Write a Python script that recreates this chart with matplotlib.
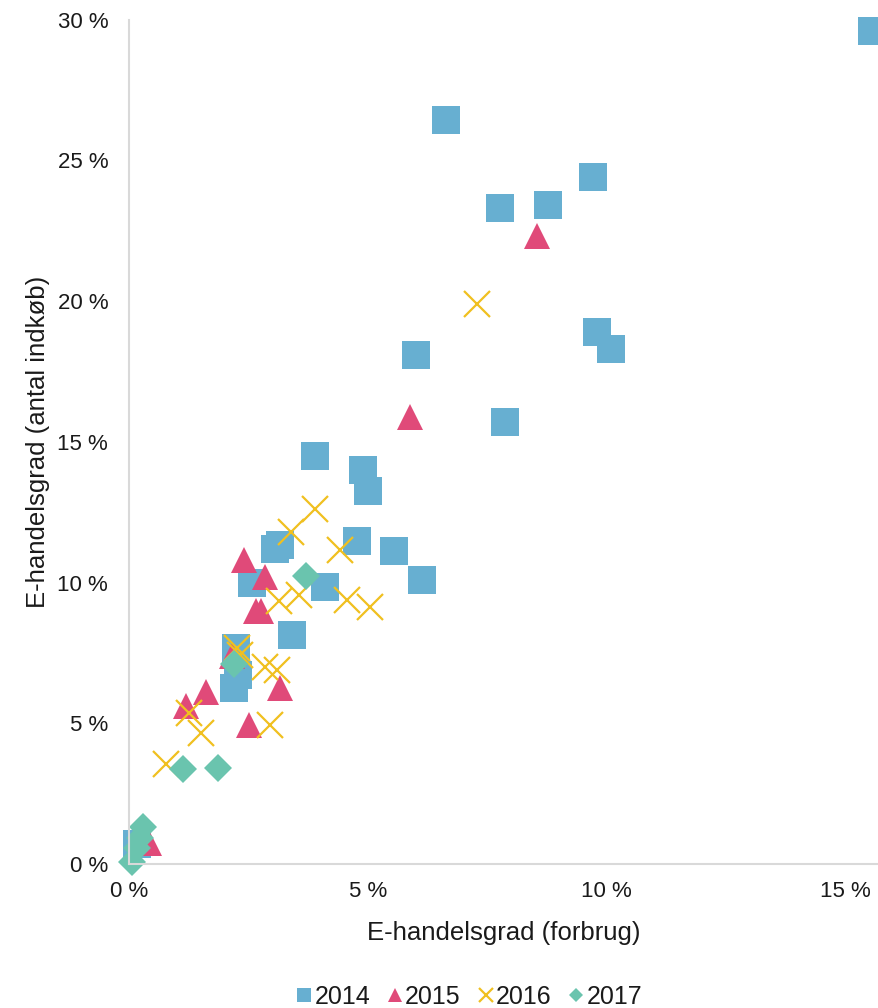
import matplotlib.pyplot as plt
from matplotlib.ticker import FuncFormatter

plt.rcParams['font.family'] = ['Liberation Sans', 'DejaVu Sans']

# 2014 (blue squares)
x2014 = [15.56, 6.63, 9.71, 7.76, 8.77, 9.79, 10.1, 6.0, 7.87, 3.89, 4.9, 5.0,
         4.77, 5.54, 3.05, 3.16, 6.13, 4.1, 2.57, 3.41, 2.24, 2.28, 2.2, 0.17]
y2014 = [29.6, 26.45, 24.4, 23.3, 23.4, 18.9, 18.3, 18.1, 15.7, 14.5, 14.0, 13.26,
         11.48, 11.13, 11.2, 11.35, 10.1, 9.85, 10.0, 8.14, 7.68, 6.72, 6.26, 0.7]

# 2015 (pink triangles)
x2015 = [8.54, 5.88, 2.4, 2.85, 2.66, 2.76, 2.15, 1.61, 1.19, 3.16, 2.51, 0.42]
y2015 = [22.3, 15.9, 10.8, 10.2, 9.0, 9.0, 7.4, 6.1, 5.6, 6.25, 4.94, 0.75]

# 2016 (yellow crosses)
x2016 = [7.28, 3.89, 3.39, 4.41, 3.14, 3.56, 4.56, 5.04, 2.26, 2.32, 2.85, 3.1,
         2.95, 1.26, 1.51, 0.77]
y2016 = [19.9, 12.6, 11.8, 11.16, 9.35, 9.56, 9.38, 9.14, 7.68, 7.43, 7.0, 6.9,
         4.94, 5.37, 4.66, 3.55]

# 2017 (green diamonds)
x2017 = [3.7, 2.2, 1.13, 1.86, 0.29, 0.23, 0.17, 0.06]
y2017 = [10.24, 7.1, 3.38, 3.41, 1.3, 0.92, 0.57, 0.07]

xticks = [0, 5, 10, 15]
yticks = [0, 5, 10, 15, 20, 25, 30]

BLUE = '#67AFD1'
PINK = '#E04A79'
YELLOW = '#F0C020'
GREEN = '#6AC4AE'
TEXT = '#1a1a1a'

fig = plt.figure(figsize=(8.79, 10.08), dpi=100)
ax = fig.add_axes([0.1468, 0.1429, 0.8532, 0.8375])

ax.plot(x2014, y2014, 's', ms=19.5, color=BLUE, mew=0, label='2014', clip_on=False)
ax.plot(x2015, y2015, '^', ms=19, color=PINK, mew=0, label='2015', clip_on=False)
ax.plot(x2016, y2016, 'x', ms=19, color=YELLOW, mew=1.6, label='2016', clip_on=False)
ax.plot(x2017, y2017, 'D', ms=14, color=GREEN, mew=0, label='2017', clip_on=False)

ax.set_xlim(0, 15.7)
ax.set_ylim(0, 30)
ax.set_xticks(xticks)
ax.set_yticks(yticks)
fmt = FuncFormatter(lambda v, p: f'{v:.0f} %')
ax.xaxis.set_major_formatter(fmt)
ax.yaxis.set_major_formatter(fmt)
ax.tick_params(length=0, labelsize=16, colors=TEXT)
ax.tick_params(axis='y', pad=15)
ax.tick_params(axis='x', pad=12)

for side in ['top', 'right']:
    ax.spines[side].set_visible(False)
for side in ['left', 'bottom']:
    ax.spines[side].set_color('#D9D9D9')
    ax.spines[side].set_linewidth(1.5)

ax.set_xlabel('E-handelsgrad (forbrug)', fontsize=18.5, color=TEXT, labelpad=14)
ax.set_ylabel('E-handelsgrad (antal indkøb)', fontsize=18.5, color=TEXT)
ax.yaxis.set_label_coords(-0.106, 0.5)

fig.legend(loc='center', bbox_to_anchor=(0.534, 0.011), ncol=4, frameon=False,
           fontsize=18, markerscale=0.52, handlelength=0.6, handletextpad=0.1,
           columnspacing=0.7, labelcolor=TEXT)

fig.savefig('out.png', dpi=100)
